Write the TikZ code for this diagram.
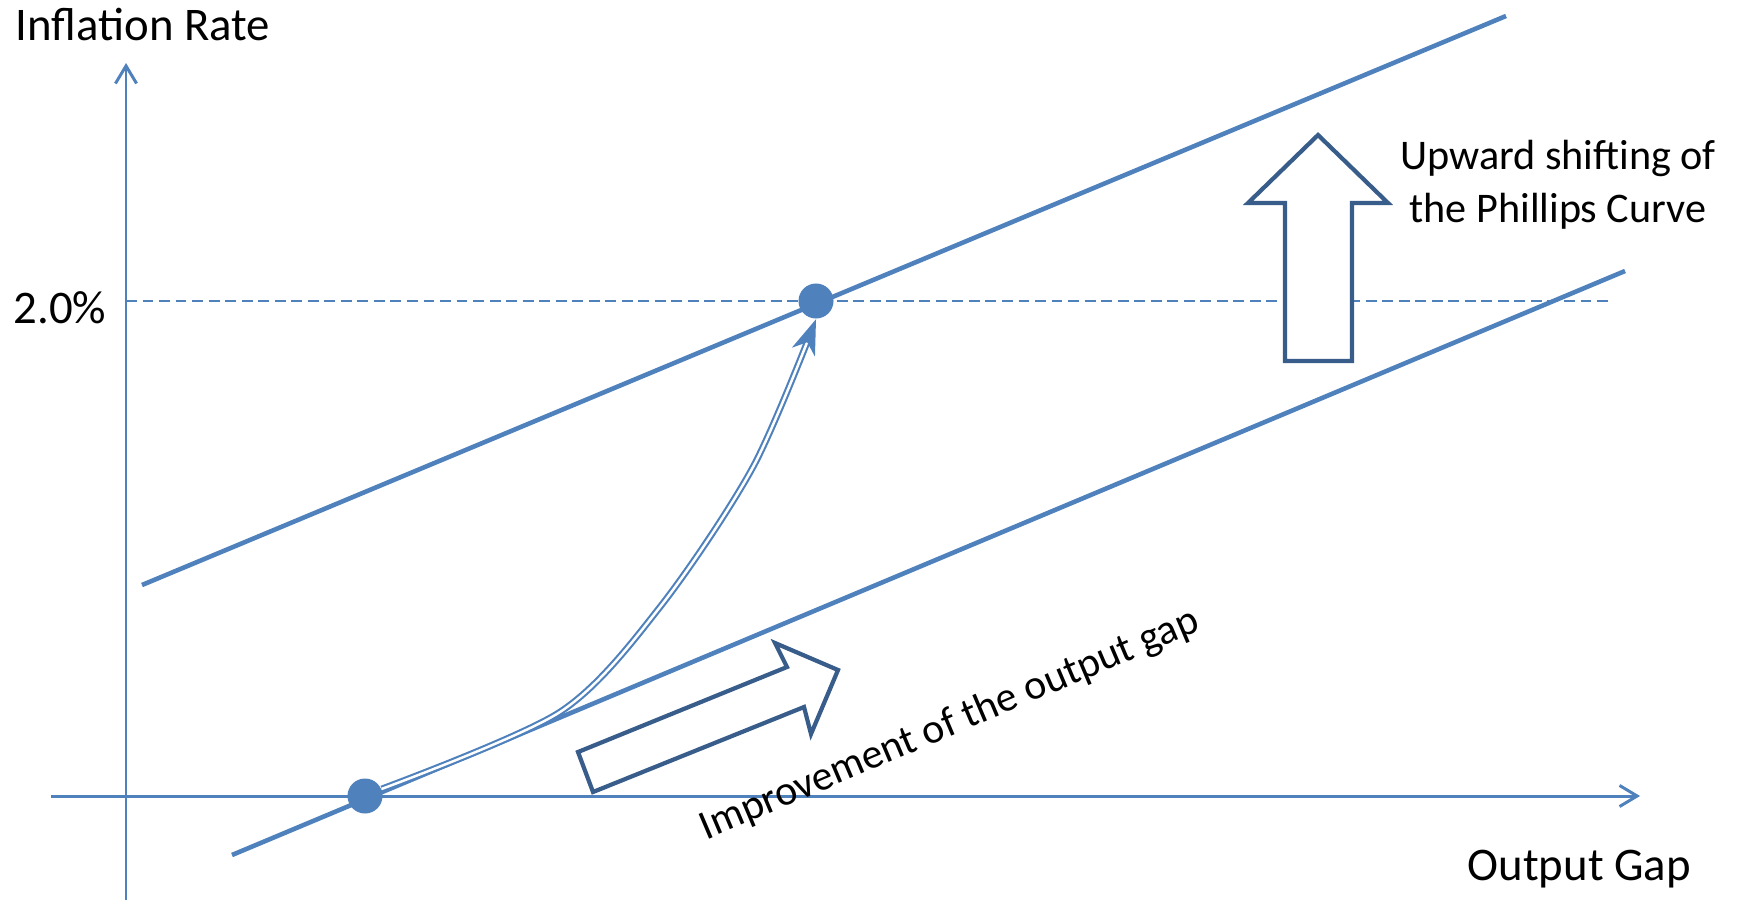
\documentclass[tikz,border=0pt]{standalone}
\usepackage{fontspec}
\setmainfont{Carlito}
\usetikzlibrary{arrows.meta}
\definecolor{pcblue}{HTML}{4F81BD}
\definecolor{pcdark}{HTML}{385D8A}
\begin{document}
\begin{tikzpicture}[x=0.01cm, y=-0.01cm, line join=round,
		>={Straight Barb[length=5pt,width=6pt]},
		axis/.style={pcblue, line width=0.85pt},
		pcline/.style={pcblue, line width=1.3pt},
		dot/.style={circle, fill=pcblue, inner sep=0pt, minimum size=0.35cm},
		blockarrow/.style={pcdark, line width=1.2pt, line join=miter, fill=white},
		lbl/.style={font=\fontsize{13.3}{16}\selectfont, inner sep=0pt}]
	\useasboundingbox (0,0) rectangle (1740,900);
	\coordinate (ybot) at (126,900);
	\coordinate (ytop) at (126,63);
	\coordinate (xleft) at (51,796);
	\coordinate (xright) at (1640,796);
	\draw[axis,->] (ybot) -- (ytop);
	\draw[axis,->] (xleft) -- (xright);
	\draw[pcblue, line width=0.7pt, dash pattern=on 3.1pt off 1.6pt] (126,301) -- (1611,301);
	\coordinate (newA) at (142,585);
	\coordinate (newB) at (1506,16);
	\coordinate (oldA) at (232,855);
	\coordinate (oldB) at (1625,271);
	\draw[pcline] (newA) -- (newB);
	\draw[pcline] (oldA) -- (oldB);
	\node[dot] (d1) at (365,796) {};
	\node[dot] (d2) at (816,301) {};
	\draw[pcblue, line width=0.6pt, double=white, double distance=0.7pt,
		-{Stealth[length=10pt,width=7pt,inset=3pt]}]
		plot[smooth] coordinates {(d1.23) (560,712) (660,607) (753,467) (d2.south)};
	\draw[blockarrow] (1285,361) -- (1285,203) -- (1248,203) -- (1318,135)
		-- (1388,203) -- (1352,203) -- (1352,361) -- cycle;
	\draw[blockarrow] (593,792) -- (578,752) -- (787,667) -- (775,643)
		-- (838,670) -- (811,734) -- (804,707) -- cycle;
	\node[lbl, anchor=base west] (ylab) at (15,40) {Inflation Rate};
	\node[lbl, anchor=base west] (pct) at (13,323) {2.0\%};
	\node[lbl, anchor=base west] (xlab) at (1467,880) {Output Gap};
	\node[font=\fontsize{12}{14.8}\selectfont, inner sep=0pt, align=center, anchor=base]
		(shift) at (1558,222) {Upward shifting of\\the Phillips Curve};
	\node[font=\fontsize{11.9}{14}\selectfont, inner sep=0pt, rotate=23, anchor=base]
		(gaplab) at (954,735) {Improvement of the output gap};
\end{tikzpicture}
\end{document}
